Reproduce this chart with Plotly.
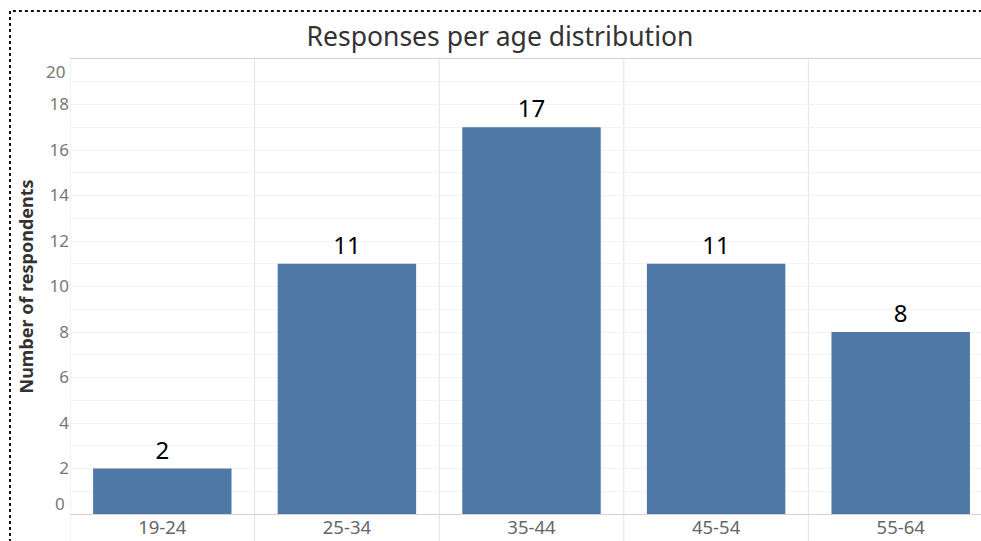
import plotly.graph_objects as go

categories = ["19-24", "25-34", "35-44", "45-54", "55-64"]
respondents = [2, 11, 17, 11, 8]
y_ticks = list(range(0, 21, 2))
y_title = "Number of respondents"

BAR = "#4e79a7"
FONT = "Noto Sans"

fig = go.Figure()
fig.add_trace(go.Bar(
    x=categories, y=respondents, marker_color=BAR, marker_line_width=0,
    width=0.75, text=[str(v) for v in respondents], textposition="outside",
    textfont=dict(size=24, color="#000000", family=FONT), cliponaxis=False,
))

# y tick labels: 0 and 20 drawn separately shifted inward (as in reference)
ticktext = [("" if v in (y_ticks[0], y_ticks[-1]) else str(v)) for v in y_ticks]

fig.update_layout(
    width=981, height=541,
    margin=dict(l=70, r=0, t=59, b=27, autoexpand=False),
    paper_bgcolor="white", plot_bgcolor="white",
    showlegend=False,
    title=dict(text="Responses per age distribution", x=500/981, xanchor="center",
               xref="container", y=1-37/541, yanchor="middle", yref="container",
               font=dict(size=26.5, color="#333333", family=FONT)),
    font=dict(family=FONT),
)
fig.update_xaxes(
    range=[-0.5, len(categories) - 0.5 - 12/184.6], automargin=False,
    showgrid=False, showline=True, linecolor="#d4d4d4", linewidth=1, mirror=True,
    ticks="", ticklabelstandoff=-3,
    tickfont=dict(size=18.5, color="#666666", family=FONT), fixedrange=True,
)
fig.update_yaxes(
    range=[0, 20], tickvals=y_ticks, ticktext=ticktext, automargin=False,
    showgrid=True, gridcolor="#f3f3f3", gridwidth=1,
    minor=dict(dtick=1, showgrid=True, gridcolor="#f3f3f3", gridwidth=1),
    showline=False, zeroline=False, ticks="",
    tickfont=dict(size=17, color="#777777", family=FONT),
)

# y axis title
fig.add_annotation(x=(25 - 70) / 911, xref="paper", xanchor="center", y=0.5, yref="paper",
                   yanchor="middle", textangle=-90, text="<b>" + y_title + "</b>",
                   showarrow=False, font=dict(size=18, color="#333333", family=FONT))

# edge tick labels shifted inward
for v, shift in ((y_ticks[0], 11), (y_ticks[-1], -12)):
    fig.add_annotation(x=0, xref="paper", xanchor="right", xshift=-3, y=v, yref="y",
                       yshift=shift, text=str(v), showarrow=False,
                       font=dict(size=17, color="#777777", family=FONT))

# category separators
for i in range(len(categories)):
    fig.add_shape(type="line", xref="x", yref="paper", x0=i - 0.5, x1=i - 0.5,
                  y0=-0.2, y1=1, line=dict(color="#e3e3e3", width=1), layer="below")

# dotted outer border
fig.add_shape(type="rect", xref="paper", yref="paper",
              x0=(10 - 70) / 911, x1=1.2, y0=-0.3, y1=(514 - 11) / 455,
              line=dict(color="#111111", width=2, dash="dot"), fillcolor="rgba(0,0,0,0)")

fig.write_html("out.html")
